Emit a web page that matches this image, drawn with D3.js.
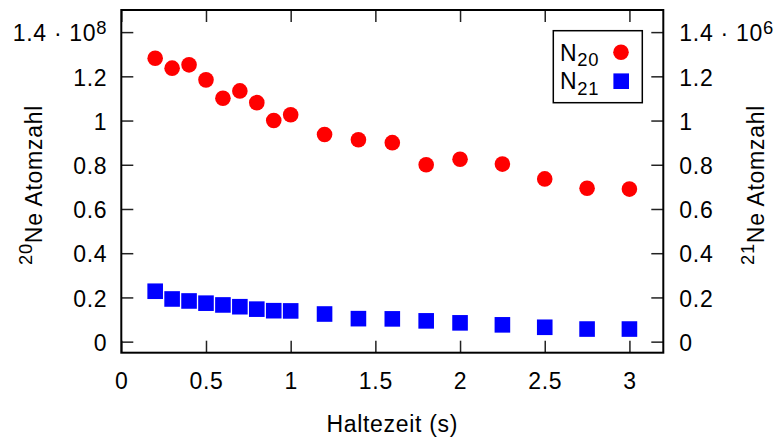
<!DOCTYPE html>
<html>
<head>
<meta charset="utf-8">
<script src="https://cdn.jsdelivr.net/npm/d3@7"></script>
<style>
  html, body { margin: 0; padding: 0; background: #fff; }
  svg { display: block; font-family: "Liberation Sans", Arial, sans-serif; }
  svg text { letter-spacing: 0.7px; }
</style>
</head>
<body>
<svg id="chart" width="778" height="441"></svg>
<script>
// Holding time (s)
const holdTimes = [0.2, 0.3, 0.4, 0.5, 0.6, 0.7, 0.8, 0.9, 1.0, 1.2, 1.4, 1.6, 1.8, 2.0, 2.25, 2.5, 2.75, 3.0];
// 20Ne atom count, units of 1e8
const n20 = [1.282, 1.237, 1.252, 1.184, 1.101, 1.134, 1.081, 1.000, 1.026, 0.937, 0.913, 0.900, 0.800, 0.825, 0.803, 0.736, 0.694, 0.690];
// 21Ne atom count, units of 1e6
const n21 = [0.228, 0.193, 0.184, 0.174, 0.166, 0.158, 0.147, 0.140, 0.139, 0.125, 0.104, 0.103, 0.094, 0.085, 0.076, 0.065, 0.057, 0.057];

const xTicks = [0, 0.5, 1, 1.5, 2, 2.5, 3];
const yTicks = [0, 0.2, 0.4, 0.6, 0.8, 1, 1.2, 1.4];
const leftExponent = "8";
const rightExponent = "6";

const W = 778, H = 441;
const margin = { left: 121.3, right: 778 - 663.3, top: 10, bottom: 441 - 352.7 };
const fontSize = 23;

const svg = d3.select("#chart");

const x = d3.scaleLinear().domain([0, 3.2]).range([margin.left, W - margin.right]);
const yL = d3.scaleLinear().domain([-0.05, 1.5]).range([H - margin.bottom, margin.top]);
const yR = d3.scaleLinear().domain([-0.05, 1.5]).range([H - margin.bottom, margin.top]);

const fmt = d3.format("~g");
const tickLen = 12;

function styleAxis(g) {
  g.select(".domain").remove();
  g.selectAll(".tick line").attr("stroke", "#222").attr("stroke-width", 1.5);
  g.selectAll(".tick text").attr("fill", "#000").style("font-size", fontSize + "px")
    .style("font-family", "'Liberation Sans', Arial, sans-serif");
}

// Bottom axis
svg.append("g")
  .attr("transform", `translate(0,${H - margin.bottom})`)
  .call(d3.axisBottom(x).tickValues(xTicks).tickFormat(fmt).tickSizeInner(-tickLen).tickSizeOuter(0).tickPadding(20))
  .call(styleAxis);

// Top axis (mirrored ticks only)
svg.append("g")
  .attr("transform", `translate(0,${margin.top})`)
  .call(d3.axisTop(x).tickValues(xTicks).tickFormat("").tickSizeInner(-tickLen).tickSizeOuter(0))
  .call(styleAxis);

// Left axis
const gL = svg.append("g")
  .attr("transform", `translate(${margin.left},0)`)
  .call(d3.axisLeft(yL).tickValues(yTicks).tickFormat(fmt).tickSizeInner(-tickLen).tickSizeOuter(0).tickPadding(14))
  .call(styleAxis);
gL.selectAll(".tick text").attr("dy", "0.38em");

// Right axis
const gR = svg.append("g")
  .attr("transform", `translate(${W - margin.right},0)`)
  .call(d3.axisRight(yR).tickValues(yTicks).tickFormat(fmt).tickSizeInner(-tickLen).tickSizeOuter(0).tickPadding(16))
  .call(styleAxis);
gR.selectAll(".tick text").attr("dy", "0.38em");

// Scale factor on the top tick label of each y axis
function addExponent(g, exp) {
  g.selectAll(".tick text")
    .filter(d => d === yTicks[yTicks.length - 1])
    .each(function (d) {
      const t = d3.select(this);
      t.text(null);
      t.append("tspan").text(fmt(d) + " \u00B7 10");
      t.append("tspan").attr("dy", "-0.42em").style("font-size", "0.8em").text(exp);
    });
}
addExponent(gL, leftExponent);
addExponent(gR, rightExponent);

// Frame
svg.append("rect")
  .attr("x", margin.left).attr("y", margin.top)
  .attr("width", W - margin.left - margin.right)
  .attr("height", H - margin.top - margin.bottom)
  .attr("fill", "none").attr("stroke", "#000").attr("stroke-width", 2);

// Data: 21Ne squares
const sq = 15.6;
svg.append("g").selectAll("rect")
  .data(holdTimes.map((t, i) => [t, n21[i]]))
  .join("rect")
  .attr("x", d => x(d[0]) - sq / 2)
  .attr("y", d => yR(d[1]) - sq / 2)
  .attr("width", sq).attr("height", sq)
  .attr("fill", "#0000ff");

// Data: 20Ne circles
svg.append("g").selectAll("circle")
  .data(holdTimes.map((t, i) => [t, n20[i]]))
  .join("circle")
  .attr("cx", d => x(d[0]))
  .attr("cy", d => yL(d[1]))
  .attr("r", 7.8)
  .attr("fill", "#ff0000");

// Axis titles
svg.append("text")
  .attr("x", (margin.left + W - margin.right) / 2)
  .attr("y", 432)
  .attr("text-anchor", "middle")
  .style("font-size", fontSize + "px")
  .text("Haltezeit (s)");

function isotopeLabel(xPos, mass) {
  const t = svg.append("text")
    .attr("transform", `translate(${xPos},265) rotate(-90)`)
    .attr("text-anchor", "start")
    .style("font-size", fontSize + "px");
  t.append("tspan").attr("dy", "-0.42em").style("font-size", "0.8em").text(mass);
  t.append("tspan").attr("dy", "0.42em").text("Ne Atomzahl");
}
isotopeLabel(40, "20");
isotopeLabel(762, "21");

// Legend
const lg = svg.append("g");
lg.append("rect")
  .attr("x", 553.3).attr("y", 30.7).attr("width", 89).attr("height", 72)
  .attr("fill", "#fff").attr("stroke", "#000").attr("stroke-width", 1.5);

function legendLabel(yBase, sub) {
  const t = lg.append("text").attr("x", 560).attr("y", yBase).style("font-size", fontSize + "px");
  t.append("tspan").text("N");
  t.append("tspan").attr("dy", "0.3em").style("font-size", "0.8em").text(sub);
}
legendLabel(60.5, "20");
legendLabel(89, "21");
lg.append("circle").attr("cx", 621).attr("cy", 52.3).attr("r", 7.8).attr("fill", "#ff0000");
lg.append("rect").attr("x", 621.2 - sq / 2).attr("y", 81.2 - sq / 2).attr("width", sq).attr("height", sq).attr("fill", "#0000ff");
</script>
</body>
</html>
